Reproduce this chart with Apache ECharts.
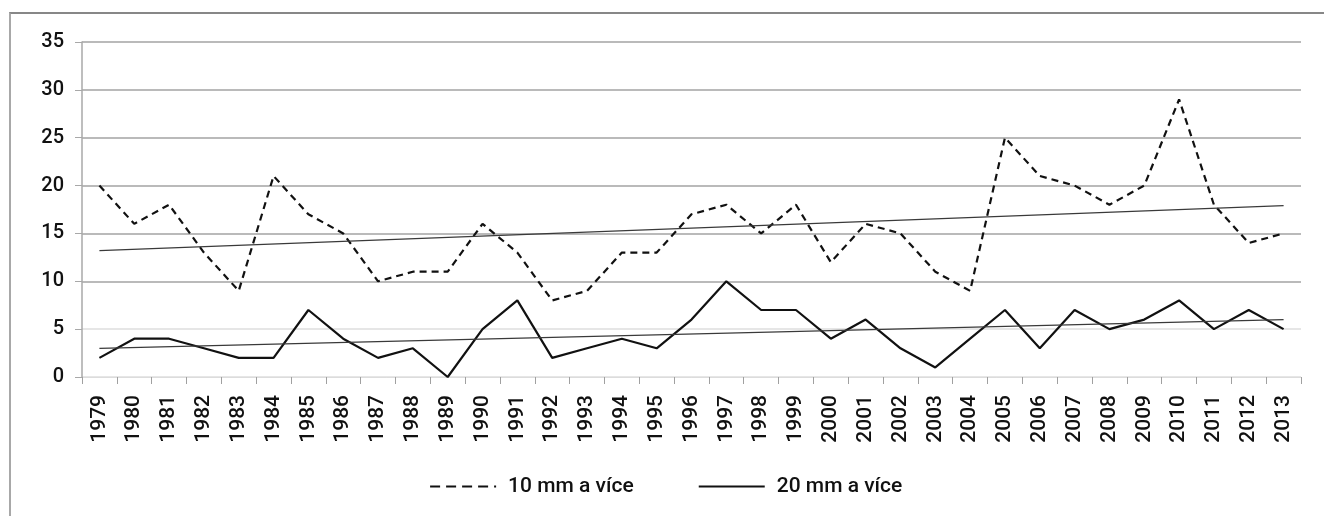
<!DOCTYPE html>
<html>
<head>
<meta charset="utf-8">
<script src="https://cdn.jsdelivr.net/npm/echarts@6/dist/echarts.min.js"></script>
<style>
  html, body { margin: 0; padding: 0; background: #fff; }
  #wrap { position: relative; width: 1324px; height: 516px; }
  #chart { position: absolute; left: 0; top: 0; width: 1324px; height: 516px; }
  /* ramecek kolem grafu: jen horni a leva hrana */
  #frame { position: absolute; left: 9px; top: 12px; right: 0; bottom: 0;
           border-top: 2px solid #878787; border-left: 2px solid #a8a8a8;
           pointer-events: none; }
</style>
</head>
<body>
<div id="wrap">
  <div id="chart"></div>
  <div id="frame"></div>
</div>
<script>
// roky
var years = ['1979','1980','1981','1982','1983','1984','1985','1986','1987','1988',
             '1989','1990','1991','1992','1993','1994','1995','1996','1997','1998',
             '1999','2000','2001','2002','2003','2004','2005','2006','2007','2008',
             '2009','2010','2011','2012','2013'];
// pocet dni se srazkami 10 mm a vice
var days10 = [20,16,18,13,9,21,17,15,10,11,
              11,16,13,8,9,13,13,17,18,15,
              18,12,16,15,11,9,25,21,20,18,
              20,29,18,14,15];
// pocet dni se srazkami 20 mm a vice
var days20 = [2,4,4,3,2,2,7,4,2,3,
              0,5,8,2,3,4,3,6,10,7,
              7,4,6,3,1,4,7,3,7,5,
              6,8,5,7,5];
// linearni trendy - koncove body
var trend10 = [['1979', 13.2], ['2013', 17.9]];
var trend20 = [['1979', 3.0], ['2013', 6.0]];
var yTicks = [0, 5, 10, 15, 20, 25, 30, 35];

var font = "Roboto, 'Liberation Sans', Arial, sans-serif";
var ink = '#111';

var myChart = echarts.init(document.getElementById('chart'));

var option = {
    animation: false,
    backgroundColor: '#fff',
    grid: { left: 82, right: 23, top: 42, bottom: 139 },
    legend: {
        left: 424,
        top: 471,
        itemWidth: 66,
        itemHeight: 14,
        itemGap: 64,
        itemStyle: { opacity: 0 },   // bez kolecka, jen cara
        textStyle: { fontFamily: font, fontWeight: 500, fontSize: 21, color: ink, padding: [0, 0, 0, 7] },
        data: [
            { name: '10 mm a více', lineStyle: { type: [10, 6], width: 2.2, color: ink } },
            { name: '20 mm a více', lineStyle: { width: 2.2, color: ink } }
        ]
    },
    xAxis: {
        type: 'category',
        data: years,
        boundaryGap: true,
        axisLine: { lineStyle: { color: '#dcdcdc', width: 1 } },
        axisTick: { show: true, length: 7, lineStyle: { color: '#a0a0a0' } },
        axisLabel: { rotate: 90, margin: 18, fontFamily: font, fontWeight: 500, fontSize: 21, color: ink, interval: 0 },
        splitLine: { show: false }
    },
    yAxis: {
        type: 'value',
        min: yTicks[0],
        max: yTicks[yTicks.length - 1],
        interval: 5,
        axisLine: { show: true, lineStyle: { color: '#a8a8a8', width: 1.5 } },
        axisTick: { show: true, length: 7, lineStyle: { color: '#a8a8a8' } },
        axisLabel: { margin: 18, fontFamily: font, fontWeight: 500, fontSize: 20, color: ink },
        // 0 a 5 jsou v predloze svetlejsi
        splitLine: { lineStyle: { color: ['#dedede', '#dedede', '#a3a3a3', '#a3a3a3', '#a3a3a3', '#a3a3a3', '#a3a3a3', '#a3a3a3'], width: 1.5 } }
    },
    series: [
        {
            name: '10 mm a více',
            type: 'line',
            data: days10,
            symbol: 'none',
            lineStyle: { color: ink, width: 2.2, type: [7, 5] },
            itemStyle: { color: ink }
        },
        {
            name: '20 mm a více',
            type: 'line',
            data: days20,
            symbol: 'none',
            lineStyle: { color: ink, width: 2.2 },
            itemStyle: { color: ink }
        },
        {
            name: 'trend 10',
            type: 'line',
            data: trend10,
            symbol: 'none',
            silent: true,
            lineStyle: { color: '#3a3a3a', width: 1.3 }
        },
        {
            name: 'trend 20',
            type: 'line',
            data: trend20,
            symbol: 'none',
            silent: true,
            lineStyle: { color: '#3a3a3a', width: 1.3 }
        }
    ]
};
myChart.setOption(option);
</script>
</body>
</html>
